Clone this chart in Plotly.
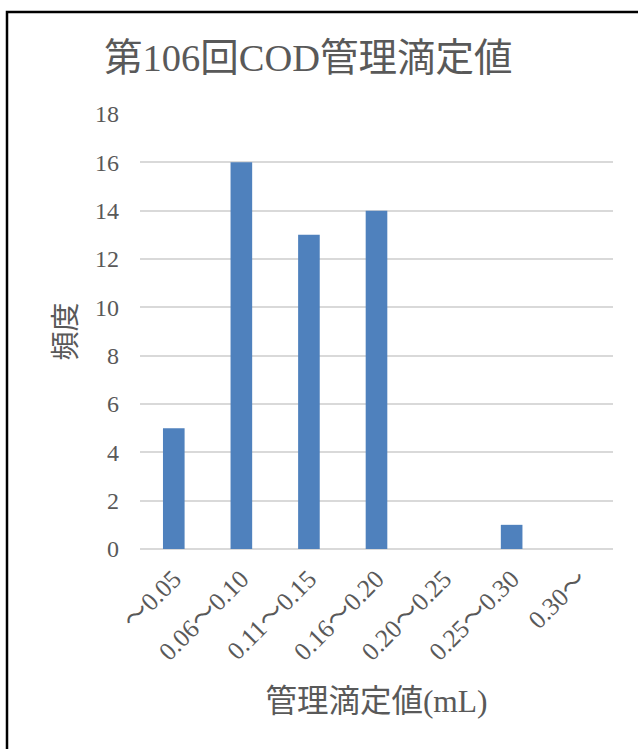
import plotly.graph_objects as go

# Frequency distribution of COD control titration values
categories = ["～0.05", "0.06～0.10", "0.11～0.15", "0.16～0.20", "0.20～0.25", "0.25～0.30", "0.30～"]
counts = [5, 16, 13, 14, 0, 1, 0]
y_ticks = [0, 2, 4, 6, 8, 10, 12, 14, 16, 18]

title_text = "第106回COD管理滴定値"
x_title = "管理滴定値(mL)"
y_title = "頻度"

W, H = 638, 749
L, R, T, B = 140, 25, 114, 200
pw, ph = W - L - R, H - T - B

FONT = "Liberation Serif, Noto Sans CJK JP, serif"
CJK = "Noto Sans CJK JP"
GREY = "#595959"


def px_x(p):
    return (p - L) / pw


def px_y(p):
    return (H - B - p) / ph


# full-width tilde drawn with the CJK face so it keeps its full em width
tick_text = [
    c.replace("～", f'<span style="font-family:{CJK}">～</span>') for c in categories
]

fig = go.Figure(
    go.Bar(
        x=categories,
        y=counts,
        marker=dict(color="#4F81BD", line=dict(width=0)),
        hoverinfo="skip",
    )
)

fig.update_layout(
    width=W,
    height=H,
    margin=dict(l=L, r=R, t=T, b=B),
    paper_bgcolor="white",
    plot_bgcolor="white",
    bargap=0.68,
    showlegend=False,
    font=dict(family=FONT, color=GREY),
    title=dict(
        text=title_text,
        font=dict(family=FONT, size=38.5, color=GREY),
        xref="container",
        yref="container",
        x=104 / W,
        xanchor="left",
        y=1 - 58 / H,
        yanchor="middle",
    ),
    xaxis=dict(
        tickangle=-45,
        tickvals=categories,
        ticktext=tick_text,
        tickfont=dict(family=FONT, size=25.5, color=GREY),
        showgrid=False,
        showline=False,
        ticks="",
        ticklabelstandoff=9,
        title=dict(text=x_title, font=dict(family=FONT, size=31.5, color=GREY), standoff=24),
    ),
    yaxis=dict(
        range=[0, 18],
        tickvals=y_ticks,
        tickfont=dict(family=FONT, size=24, color=GREY),
        showgrid=True,
        gridcolor="#D9D9D9",
        gridwidth=2,
        zeroline=True,
        zerolinecolor="#D9D9D9",
        zerolinewidth=2,
        showline=False,
        ticks="",
        ticklabelstandoff=20,
        title=dict(text=y_title, font=dict(family=FONT, size=29, color=GREY), standoff=9),
    ),
    shapes=[
        dict(
            type="path",
            xref="paper",
            yref="paper",
            path=f"M {px_x(7)} {px_y(770)} L {px_x(7)} {px_y(12)} L {px_x(660)} {px_y(12)}",
            line=dict(color="black", width=2.5),
        )
    ],
)

fig.write_html("out.html")
